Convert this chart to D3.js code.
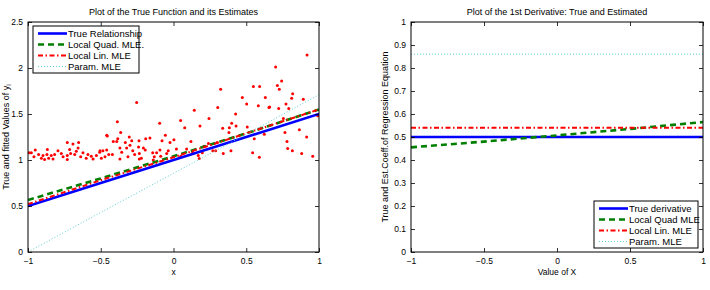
<!doctype html>
<html>
<head>
<meta charset="utf-8">
<script src="https://cdn.jsdelivr.net/npm/d3@7"></script>
<style>
  body { margin: 0; background: #fff; }
  svg { font-family: "Liberation Sans", Arial, sans-serif; }
  .tick text { font-size: 8.5px; fill: #000; }
</style>
</head>
<body>
<svg width="710" height="290"></svg>
<script>
// ---- data ----
var gridX = [-1, -0.5, 0, 0.5, 1];

// left panel: fitted curves at gridX
var trueFn   = [0.50, 0.75, 1.00, 1.25, 1.50];
var quadFn   = [0.565, 0.80, 1.04, 1.29, 1.55];
var linFn    = [0.52, 0.78, 1.03, 1.29, 1.55];
var paramFn  = [0.00, 0.43, 0.855, 1.28, 1.71];

// left panel: observations
var obsX = [-0.977,-0.95,-0.959,-0.927,-0.908,-0.897,-0.886,-0.867,-0.87,-0.858,-0.84,-0.828,-0.817,-0.794,-0.771,-0.759,
  -0.73,-0.691,-0.652,-0.714,-0.73,-0.707,-0.73,-0.679,-0.668,-0.656,-0.638,-0.622,-0.6,-0.588,-0.565,-0.553,-0.53,-0.507,-0.496,-0.991,
  -0.253,-0.386,-0.095,-0.363,-0.455,-0.056,-0.162,-0.414,-0.39,-0.383,-0.331,-0.304,-0.287,-0.237,-0.191,-0.079,-0.024,
  -0.505,-0.485,-0.459,-0.445,-0.471,-0.42,-0.368,-0.356,-0.368,-0.322,-0.313,-0.299,-0.28,-0.267,-0.24,-0.235,-0.221,-0.207,-0.194,
  -0.143,-0.132,-0.116,-0.093,-0.088,-0.047,-0.036,-0.235,-0.139,-0.459,
  0.049,0.143,0.304,0.324,0.473,0.503,0.549,0.592,0.631,0.583,0.702,0.743,0.714,0.727,0.819,0.812,0.773,0.723,0.656,0.918,0.892,
  0.792,0.755,0.766,0.865,0.915,0.991,0.555,0.624,0.43,0.384,0.427,0.244,0.182,0.077,0.003,0.40,0.338,0.507,0.381,0.78,0.785,
  0.817,0.881,0.957,0.544,0.59,0.395,0.342,0.29,0.177,0.198,0.05,0.09,0.13,0.17,0.21,0.24,0.27,0.30,0.12,0.02,0.661];
var obsY = [1.08,1.11,1.035,1.06,1.02,1.05,1.005,1.115,1.06,1.02,1.05,1.01,1.06,1.10,1.07,1.035,
  1.19,1.175,1.19,1.115,1.05,1.07,1.005,1.06,1.095,1.13,1.035,1.08,1.02,1.06,1.04,1.01,1.05,1.085,1.02,1.08,
  1.625,1.415,1.40,1.30,1.26,1.27,1.24,1.20,1.20,1.23,1.19,1.25,1.21,1.21,1.23,1.21,1.19,
  1.10,1.10,1.11,1.06,1.035,1.06,1.13,1.085,1.01,1.13,1.035,1.16,1.10,1.06,1.14,1.07,1.02,1.13,1.11,
  1.08,1.035,1.08,1.11,1.04,1.07,1.10,1.01,1.00,1.27,
  1.43,1.54,1.57,1.77,1.68,1.61,1.80,1.80,1.68,1.59,2.01,1.86,1.81,1.77,1.72,1.67,1.61,1.56,1.57,2.14,1.66,
  1.56,1.45,1.30,1.33,1.25,1.48,1.23,1.28,1.37,1.35,1.50,1.45,1.37,1.35,1.22,1.40,1.345,1.36,1.30,1.20,1.125,
  1.10,1.07,1.04,1.08,1.03,1.10,1.07,1.10,1.016,1.08,1.04,1.12,1.09,1.05,1.15,1.18,1.10,1.19,1.20,1.12,1.575];

// right panel: derivatives at gridX
var trueDer  = [0.50, 0.50, 0.50, 0.50, 0.50];
var quadDer  = [0.455, 0.48, 0.507, 0.535, 0.565];
var linDer   = [0.54, 0.54, 0.54, 0.54, 0.54];
var paramDer = [0.86, 0.86, 0.86, 0.86, 0.86];

var xTicks = [-1, -0.5, 0, 0.5, 1];
var yTicksL = [0, 0.5, 1, 1.5, 2, 2.5];
var yTicksR = [0, 0.1, 0.2, 0.3, 0.4, 0.5, 0.6, 0.7, 0.8, 0.9, 1];

var legendL = ["True Relationship", "Local Quad. MLE.", "Local Lin. MLE", "Param. MLE"];
var legendR = ["True derivative", "Local Quad MLE", "Local Lin. MLE", "Param. MLE"];

// line styles per series
var styles = [
  {color: "#0000ff", width: 2.6, dash: null},
  {color: "#007f00", width: 2.6, dash: "6,4"},
  {color: "#ff0000", width: 2.0, dash: "5,2.5,1.5,2.5"},
  {color: "#5fcfcf", width: 1.0, dash: "1,2"}
];

var svg = d3.select("svg");
var fmt = function(d) { return d3.format("~g")(d); };

function panel(o) {
  var x = d3.scaleLinear().domain([-1, 1]).range([o.left, o.right]);
  var y = d3.scaleLinear().domain(o.yDomain).range([o.bottom, o.top]);
  var g = svg.append("g");

  g.append("clipPath").attr("id", o.id).append("rect")
    .attr("x", o.left).attr("y", o.top).attr("width", o.right - o.left).attr("height", o.bottom - o.top);

  var plot = g.append("g").attr("clip-path", "url(#" + o.id + ")");

  if (o.pointsX) {
    plot.selectAll("circle").data(o.pointsX).enter().append("circle")
      .attr("cx", function(d) { return x(d); })
      .attr("cy", function(d, i) { return y(o.pointsY[i]); })
      .attr("r", 1.5).attr("fill", "#ff0000");
  }

  var line = d3.line().x(function(d, i) { return x(gridX[i]); }).y(function(d) { return y(d); });
  o.series.forEach(function(s, k) {
    var st = styles[k];
    plot.append("path").datum(s)
      .attr("d", line).attr("fill", "none")
      .attr("stroke", st.color).attr("stroke-width", st.width)
      .attr("stroke-dasharray", st.dash);
  });

  // axes, MATLAB style: ticks inside on all sides
  g.append("g").attr("transform", "translate(0," + o.bottom + ")")
    .call(d3.axisBottom(x).tickValues(xTicks).tickSizeInner(-4).tickSizeOuter(0).tickPadding(6).tickFormat(fmt));
  g.append("g").attr("transform", "translate(0," + o.top + ")")
    .call(d3.axisTop(x).tickValues(xTicks).tickSizeInner(-4).tickSizeOuter(0).tickFormat(""));
  g.append("g").attr("transform", "translate(" + o.left + ",0)")
    .call(d3.axisLeft(y).tickValues(o.yTicks).tickSizeInner(-4).tickSizeOuter(0).tickPadding(5).tickFormat(fmt));
  g.append("g").attr("transform", "translate(" + o.right + ",0)")
    .call(d3.axisRight(y).tickValues(o.yTicks).tickSizeInner(-4).tickSizeOuter(0).tickFormat(""));
  g.selectAll(".domain").remove();
  g.selectAll(".tick line").attr("stroke", "#000").attr("stroke-width", 0.8);
  g.append("rect").attr("x", o.left).attr("y", o.top)
    .attr("width", o.right - o.left).attr("height", o.bottom - o.top)
    .attr("fill", "none").attr("stroke", "#000").attr("stroke-width", 1);

  g.append("text").attr("x", (o.left + o.right) / 2).attr("y", 15)
    .attr("text-anchor", "middle").attr("font-size", 9).text(o.title);
  g.append("text").attr("x", (o.left + o.right) / 2).attr("y", 275)
    .attr("text-anchor", "middle").attr("font-size", 8.5).text(o.xLabel);
  var yl = g.append("text")
    .attr("transform", "translate(" + o.yLabelX + "," + ((o.top + o.bottom) / 2) + ") rotate(-90)")
    .attr("text-anchor", "middle").attr("font-size", 9).text(o.yLabel);
  if (o.yLabelSub) {
    yl.append("tspan").attr("font-size", 7).attr("dy", 2).text(o.yLabelSub);
  }

  // legend
  var lg = o.legend;
  var box = g.append("g");
  box.append("rect").attr("x", lg.x).attr("y", lg.y).attr("width", lg.w).attr("height", 47)
    .attr("fill", "#fff").attr("stroke", "#000").attr("stroke-width", 1);
  lg.labels.forEach(function(t, k) {
    var st = styles[k];
    var cy = lg.y + 7.5 + k * 11;
    box.append("line").attr("x1", lg.x + 5).attr("x2", lg.x + 34).attr("y1", cy).attr("y2", cy)
      .attr("stroke", st.color).attr("stroke-width", st.width).attr("stroke-dasharray", st.dash);
    box.append("text").attr("x", lg.x + 35).attr("y", cy + 3.3).attr("font-size", 9.5).text(t);
  });
}

panel({
  id: "clipL", left: 28, right: 319, top: 22, bottom: 252,
  yDomain: [0, 2.5], yTicks: yTicksL,
  series: [trueFn, quadFn, linFn, paramFn],
  pointsX: obsX, pointsY: obsY,
  title: "Plot of the True Function and its Estimates",
  xLabel: "x", yLabel: "True and fitted Values of y", yLabelSub: "i", yLabelX: 9,
  legend: {x: 33, y: 26, w: 106, labels: legendL}
});

panel({
  id: "clipR", left: 411, right: 703, top: 22, bottom: 252,
  yDomain: [0, 1], yTicks: yTicksR,
  series: [trueDer, quadDer, linDer, paramDer],
  title: "Plot of the 1st Derivative: True and Estimated",
  xLabel: "Value of X", yLabel: "True and Est.Coeff.of Regression Equation", yLabelX: 388,
  legend: {x: 594, y: 201, w: 104, labels: legendR}
});
</script>
</body>
</html>
